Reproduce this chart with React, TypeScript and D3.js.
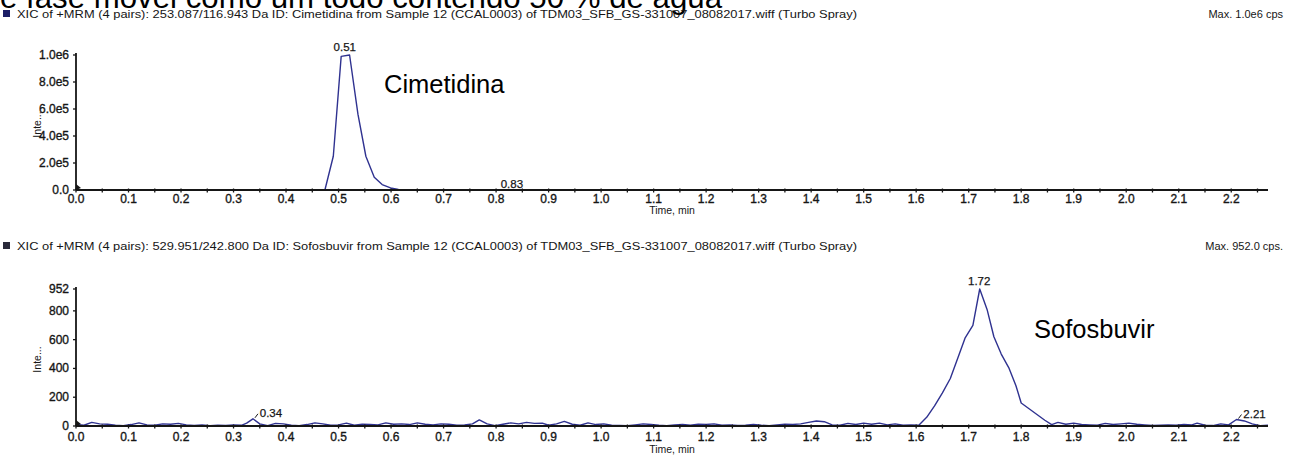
import React, { useEffect, useRef } from "react";
import * as d3 from "d3";

// Cimetidina trace (time in min, intensity in cps)
const cimTime = [0, 0.474, 0.49, 0.505, 0.521, 0.537, 0.552, 0.568, 0.583, 0.599, 0.614, 0.63, 2.27];
const cimIntensity = [0, 0, 250000, 990000, 1000000, 560000, 250000, 95000, 40000, 15000, 5000, 0, 0];

// Sofosbuvir trace
const sofTime = [
  0.0, 0.015, 0.03, 0.045, 0.06, 0.075, 0.09, 0.105, 0.12, 0.135, 0.15, 0.165, 0.18, 0.195, 0.21, 0.225,
  0.24, 0.255, 0.27, 0.285, 0.3, 0.315, 0.325, 0.337, 0.35, 0.365, 0.38, 0.395, 0.41, 0.425, 0.44, 0.455,
  0.47, 0.485, 0.5, 0.515, 0.53, 0.545, 0.56, 0.575, 0.59, 0.605, 0.62, 0.635, 0.65, 0.665, 0.68, 0.695,
  0.71, 0.725, 0.74, 0.755, 0.768, 0.783, 0.798, 0.813, 0.828, 0.843, 0.858, 0.873, 0.888, 0.9, 0.915,
  0.93, 0.945, 0.96, 0.975, 0.99, 1.005, 1.02, 1.035, 1.05, 1.065, 1.08, 1.095, 1.11, 1.125, 1.14, 1.155,
  1.17, 1.185, 1.2, 1.215, 1.23, 1.245, 1.26, 1.275, 1.29, 1.305, 1.32, 1.335, 1.35, 1.365, 1.38, 1.395,
  1.41, 1.425, 1.44, 1.455, 1.47, 1.485, 1.5, 1.515, 1.53, 1.545, 1.56, 1.575, 1.59, 1.605, 1.62, 1.635,
  1.65, 1.665, 1.68, 1.693, 1.708, 1.721, 1.735, 1.748, 1.762, 1.777, 1.79, 1.8, 1.815, 1.83, 1.845,
  1.858, 1.87, 1.885, 1.9, 1.915, 1.93, 1.945, 1.96, 1.975, 1.99, 2.005, 2.02, 2.035, 2.05, 2.065, 2.08,
  2.095, 2.11, 2.125, 2.135, 2.15, 2.165, 2.18, 2.195, 2.21, 2.225, 2.24, 2.255, 2.27,
];
const sofIntensity = [
  10, 5, 25, 15, 12, 5, 2, 10, 22, 8, 5, 15, 12, 18, 8, 3,
  8, 2, 5, 3, 8, 5, 20, 50, 15, 3, 18, 15, 5, 2, 10, 22,
  15, 5, 8, 20, 5, 12, 10, 8, 22, 12, 15, 10, 22, 12, 8, 15,
  12, 5, 8, 15, 42, 15, 3, 12, 22, 15, 25, 18, 20, 5, 15,
  32, 12, 5, 22, 10, 15, 5, 3, 2, 8, 15, 10, 5, 2, 8, 10,
  5, 12, 10, 15, 5, 8, 3, 5, 10, 5, 2, 8, 12, 10, 15, 25,
  35, 30, 8, 5, 18, 10, 20, 12, 20, 8, 15, 5, 8, 5, 60, 140,
  230, 330, 480, 610, 700, 952, 810, 620, 500, 400, 280, 160, 120, 80, 40,
  10, 25, 12, 20, 10, 8, 5, 18, 10, 15, 20, 12, 8, 3, 5, 8,
  5, 10, 8, 20, 5, 3, 15, 8, 45, 35, 15, 2, 5,
];

const xTicks = [0, 0.1, 0.2, 0.3, 0.4, 0.5, 0.6, 0.7, 0.8, 0.9, 1.0, 1.1, 1.2, 1.3, 1.4, 1.5, 1.6, 1.7, 1.8, 1.9, 2.0, 2.1, 2.2];
const cimYTicks = [0, 200000, 400000, 600000, 800000, 1000000];
const cimYLabels = ["0.0", "2.0e5", "4.0e5", "6.0e5", "8.0e5", "1.0e6"];
const sofYTicks = [0, 200, 400, 600, 800, 952];
const sofYLabels = ["0", "200", "400", "600", "800", "952"];

const FONT = "'Liberation Sans', Arial, sans-serif";
const LINE = "#2f3290";
const INK = "#161616";

const panels = [
  {
    header:
      "XIC of +MRM (4 pairs): 253.087/116.943 Da ID: Cimetidina from Sample 12 (CCAL0003) of TDM03_SFB_GS-331007_08082017.wiff (Turbo Spray)",
    max: "Max. 1.0e6 cps",
    headerY: 18,
    square: "#1c1e66",
    top: 55,
    bottom: 190,
    tickY: 13,
    titleY: 24,
    yMax: 1000000,
    time: cimTime,
    intensity: cimIntensity,
    yTicks: cimYTicks,
    yLabels: cimYLabels,
    name: "Cimetidina",
    nameX: 384,
    nameY: 93,
    peaks: [
      { t: 0.51, v: 1000000, label: "0.51", dx: 1, dy: -4, lead: false },
      { t: 0.83, v: 0, label: "0.83", dx: 0, dy: -2, lead: false },
    ],
  },
  {
    header:
      "XIC of +MRM (4 pairs): 529.951/242.800 Da ID: Sofosbuvir from Sample 12 (CCAL0003) of TDM03_SFB_GS-331007_08082017.wiff (Turbo Spray)",
    max: "Max. 952.0 cps.",
    headerY: 250,
    square: "#2a2a3a",
    top: 289,
    bottom: 426,
    tickY: 15,
    titleY: 27,
    yMax: 952,
    time: sofTime,
    intensity: sofIntensity,
    yTicks: sofYTicks,
    yLabels: sofYLabels,
    name: "Sofosbuvir",
    nameX: 1034,
    nameY: 338,
    peaks: [
      { t: 1.72, v: 952, label: "1.72", dx: 0, dy: -4, lead: false },
      { t: 0.337, v: 50, label: "0.34", dx: 18, dy: -2, lead: true },
      { t: 2.21, v: 45, label: "2.21", dx: 18, dy: -2, lead: true },
    ],
  },
];

const App = () => {
  const svgRef = useRef<SVGSVGElement>(null);

  useEffect(() => {
    const svg = d3.select(svgRef.current);
    svg.selectAll("*").remove();

    // cut-off line of body text above the figure
    svg
      .append("text")
      .attr("x", 0)
      .attr("y", 7.5)
      .attr("font-family", FONT)
      .attr("font-size", 31)
      .attr("textLength", 722)
      .attr("lengthAdjust", "spacingAndGlyphs")
      .attr("fill", "#000")
      .text("e fase móvel como um todo contendo 50 % de água");

    const x = d3.scaleLinear().domain([0, 2.27]).range([76, 1268]);

    panels.forEach((p) => {
      const y = d3.scaleLinear().domain([0, p.yMax]).range([p.bottom, p.top]);
      const g = svg.append("g");

      g.append("rect")
        .attr("x", 3)
        .attr("y", p.headerY - 8)
        .attr("width", 7)
        .attr("height", 7)
        .attr("fill", p.square);
      g.append("text")
        .attr("x", 17)
        .attr("y", p.headerY)
        .attr("font-family", FONT)
        .attr("font-size", 11)
        .attr("textLength", 840)
        .attr("lengthAdjust", "spacingAndGlyphs")
        .attr("fill", INK)
        .text(p.header);
      g.append("text")
        .attr("x", 1283)
        .attr("y", p.headerY)
        .attr("text-anchor", "end")
        .attr("font-family", FONT)
        .attr("font-size", 11)
        .attr("fill", INK)
        .text(p.max);

      const pts = p.time.map((t, i) => [t, p.intensity[i]] as [number, number]);
      const line = d3
        .line<[number, number]>()
        .x((d) => x(d[0]))
        .y((d) => y(d[1]));
      g.append("path")
        .attr("d", line(pts))
        .attr("fill", "none")
        .attr("stroke", LINE)
        .attr("stroke-width", 1.4)
        .attr("stroke-linejoin", "round");

      // x axis
      const xAxis = g.append("g").attr("transform", `translate(0,${p.bottom})`);
      xAxis
        .append("line")
        .attr("x1", 76)
        .attr("x2", 1268)
        .attr("stroke", INK)
        .attr("stroke-width", 1.8);
      const minor = d3.range(0, 2.27, 0.05);
      xAxis
        .selectAll(".minor")
        .data(minor)
        .enter()
        .append("line")
        .attr("x1", (d) => x(d))
        .attr("x2", (d) => x(d))
        .attr("y1", -1.5)
        .attr("y2", 2.5)
        .attr("stroke", INK)
        .attr("stroke-width", 1.3);
      xAxis
        .selectAll(".lbl")
        .data(xTicks)
        .enter()
        .append("text")
        .attr("x", (d) => x(d))
        .attr("y", p.tickY)
        .attr("text-anchor", "middle")
        .attr("font-family", FONT)
        .attr("font-size", 12)
        .attr("fill", INK)
        .attr("stroke", INK)
        .attr("stroke-width", 0.35)
        .text((d) => d.toFixed(1));
      xAxis
        .append("text")
        .attr("x", 672)
        .attr("y", p.titleY)
        .attr("text-anchor", "middle")
        .attr("font-family", FONT)
        .attr("font-size", 10.5)
        .attr("fill", INK)
        .text("Time, min");

      // y axis
      const yAxis = g.append("g");
      yAxis
        .append("line")
        .attr("x1", 76)
        .attr("x2", 76)
        .attr("y1", p.top - 2)
        .attr("y2", p.bottom)
        .attr("stroke", INK)
        .attr("stroke-width", 1.8);
      yAxis
        .selectAll(".tk")
        .data(p.yTicks)
        .enter()
        .append("line")
        .attr("x1", 73)
        .attr("x2", 76)
        .attr("y1", (d) => y(d))
        .attr("y2", (d) => y(d))
        .attr("stroke", INK)
        .attr("stroke-width", 1.3);
      yAxis
        .selectAll(".yl")
        .data(p.yTicks)
        .enter()
        .append("text")
        .attr("x", 69)
        .attr("y", (d) => y(d) + 4)
        .attr("text-anchor", "end")
        .attr("font-family", FONT)
        .attr("font-size", 12)
        .attr("fill", INK)
        .attr("stroke", INK)
        .attr("stroke-width", 0.35)
        .text((d, i) => p.yLabels[i]);
      yAxis
        .append("path")
        .attr("d", `M76,${p.bottom - 6} L81,${p.bottom - 2} L76,${p.bottom} Z`)
        .attr("fill", INK);
      yAxis
        .append("text")
        .attr("transform", `translate(41,${(p.top + p.bottom) / 2 + 2}) rotate(-90)`)
        .attr("text-anchor", "middle")
        .attr("font-family", FONT)
        .attr("font-size", 10.5)
        .attr("fill", INK)
        .text("Inte...");

      // peak labels
      p.peaks.forEach((pk) => {
        const px = x(pk.t);
        const py = y(pk.v);
        if (pk.lead) {
          g.append("line")
            .attr("x1", px + 2)
            .attr("y1", py - 1)
            .attr("x2", px + 5)
            .attr("y2", py - 5)
            .attr("stroke", INK)
            .attr("stroke-width", 1);
        }
        g.append("text")
          .attr("x", px + pk.dx)
          .attr("y", py + pk.dy)
          .attr("text-anchor", "middle")
          .attr("font-family", FONT)
          .attr("font-size", 11.5)
          .attr("fill", INK)
          .attr("stroke", INK)
          .attr("stroke-width", 0.25)
          .text(pk.label);
      });

      g.append("text")
        .attr("x", p.nameX)
        .attr("y", p.nameY)
        .attr("font-family", FONT)
        .attr("font-size", 25.5)
        .attr("fill", "#000")
        .text(p.name);
    });
  }, []);

  return (
    <svg
      ref={svgRef}
      width={1295}
      height={457}
      style={{ position: "absolute", left: 0, top: 0, background: "#fff" }}
    />
  );
};

export default App;
